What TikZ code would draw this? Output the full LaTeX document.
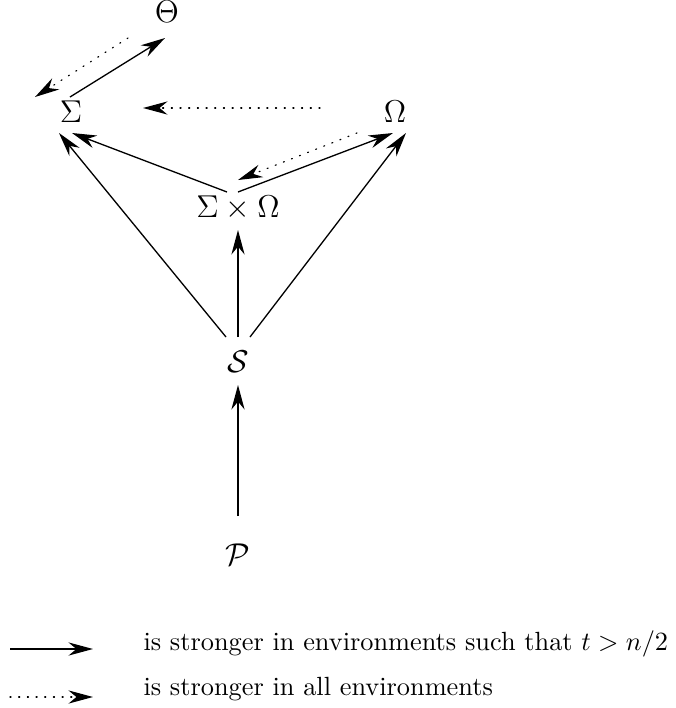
\documentclass[tikz,border=0pt]{standalone}
\usetikzlibrary{arrows.meta}
\begin{document}
\begin{tikzpicture}[x=0.38pt,y=-0.38pt,
  lab/.style={anchor=base,inner sep=0pt,font=\large},
  leg/.style={anchor=base west,inner sep=0pt},
  strong/.style={line width=0.5pt,-{Stealth[length=9.3pt,width=5pt,inset=3pt]}},
  weak/.style={line width=0.45pt,dash pattern=on 0.4pt off 2.9pt,line cap=round,-{Stealth[length=9.3pt,width=5pt,inset=3pt]}}]
\useasboundingbox (0,0) rectangle (676,708);
\node[lab] (Th) at (167,22.5) {$\Theta$};
\node[lab] (Sig) at (71,122) {$\Sigma$};
\node[lab] (Om) at (395,122) {$\Omega$};
\node[lab] (SO) at (238,217) {$\Sigma\times\Omega$};
\node[lab] (S) at (238,372) {$\mathcal{S}$};
\node[lab] (P) at (238,565) {$\mathcal{P}$};
% connectors
\draw[strong] ([shift={(-1,-25)}]Sig.base) -- ([shift={(-2,15.5)}]Th.base);
\draw[weak] ([shift={(-39,15.5)}]Th.base) -- ([shift={(-36,-25)}]Sig.base);
\draw[weak] ([shift={(-75,-14)}]Om.base) -- ([shift={(72,-14)}]Sig.base);
\draw[strong] ([shift={(0,-25)}]SO.base) -- ([shift={(-2,11)}]Om.base);
\draw[weak] ([shift={(-38,11)}]Om.base) -- ([shift={(0,-37)}]SO.base);
\draw[strong] ([shift={(-11,-25)}]SO.base) -- ([shift={(1,11)}]Sig.base);
\draw[strong] ([shift={(-12,-35)}]S.base) -- ([shift={(-12,11)}]Sig.base);
\draw[strong] ([shift={(12,-35)}]S.base) -- ([shift={(11,11)}]Om.base);
\draw[strong] ([shift={(0,-35)}]S.base) -- ([shift={(0,13)}]SO.base);
\draw[strong] ([shift={(0,-49)}]P.base) -- ([shift={(0,13)}]S.base);
% legend
\node[leg] (L1) at (143,650) {is stronger in environments such that $t > n/2$};
\node[leg] (L2) at (143,695) {is stronger in all environments};
\coordinate (a1) at (10,649);
\coordinate (a2) at (10,697);
\draw[strong] (a1) -- ([shift={(-50,-1)}]L1.base west);
\draw[weak] (a2) -- ([shift={(-50,2)}]L2.base west);
\end{tikzpicture}
\end{document}
